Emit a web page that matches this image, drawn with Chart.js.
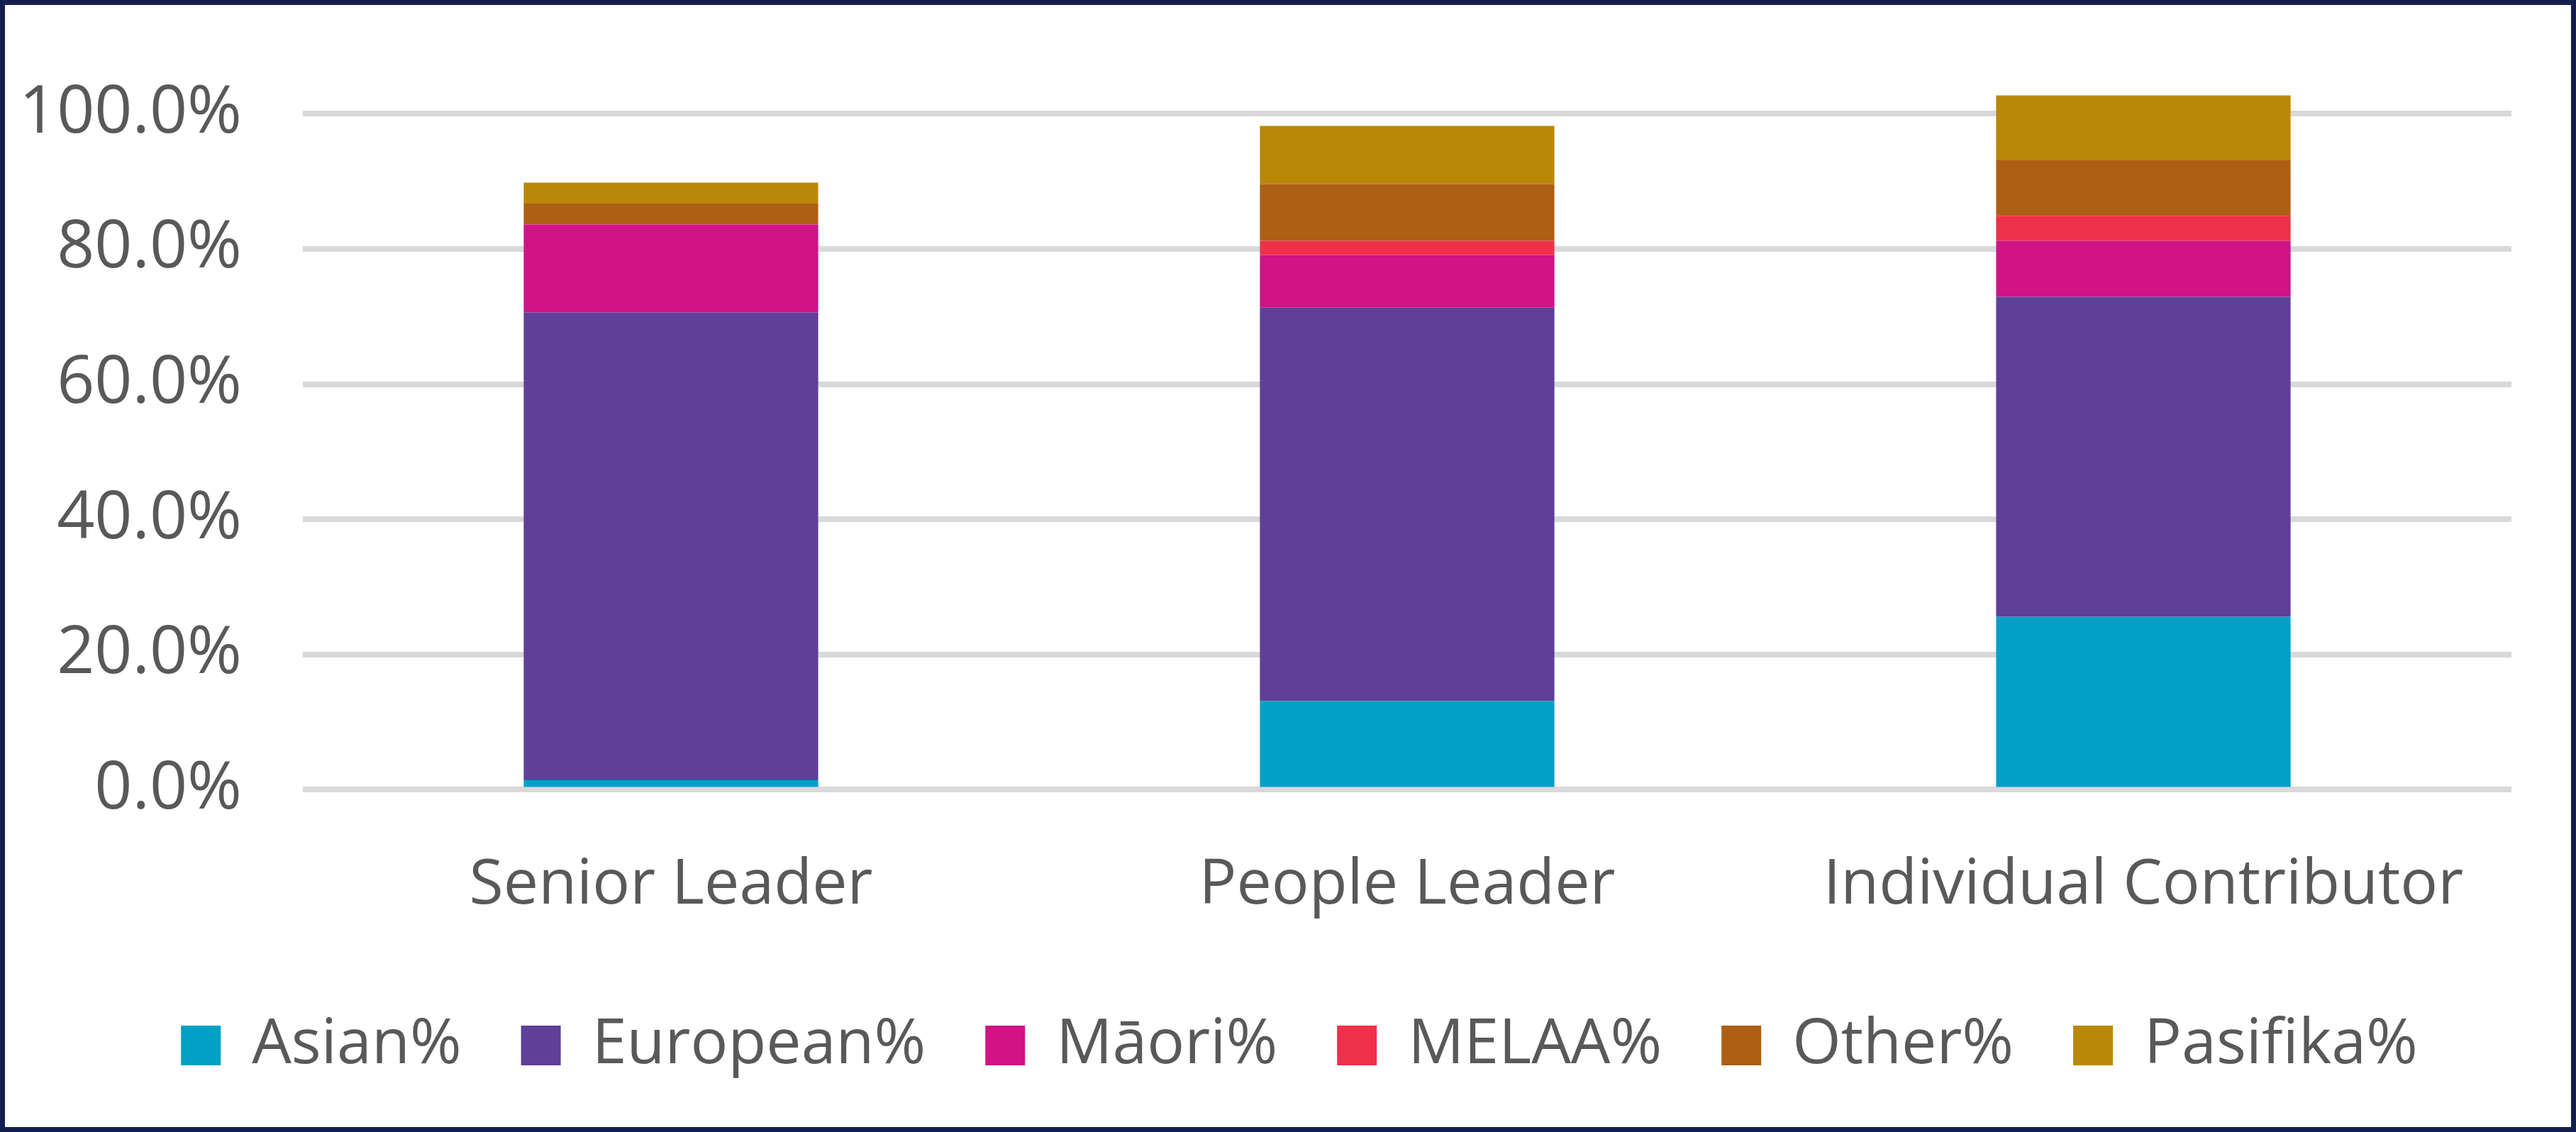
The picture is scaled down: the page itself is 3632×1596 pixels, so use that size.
<!DOCTYPE html>
<html>
<head>
<meta charset="utf-8">
<script src="https://cdn.jsdelivr.net/npm/chart.js@4/dist/chart.umd.min.js"></script>
<style>
  html, body { margin: 0; padding: 0; background: #fff; }
  #frame {
    width: 3632px; height: 1596px; box-sizing: border-box;
    border: 7px solid #131e50; background: #fff;
  }
  #chart { display: block; }
</style>
</head>
<body>
<div id="frame"><canvas id="chart" width="3618" height="1582"></canvas></div>
<script>
const levels = ['Senior Leader', 'People Leader', 'Individual Contributor'];

const asian    = [1.4, 13.1, 25.6];
const european = [69.2, 58.2, 47.3];
const maori    = [13.0, 7.8, 8.3];
const melaa    = [0.0, 2.1, 3.7];
const other    = [3.1, 8.4, 8.2];
const pasifika = [3.1, 8.6, 9.6];

const yTicks = [0, 20, 40, 60, 80, 100];

const seriesNames  = ['Asian%', 'European%', 'Māori%', 'MELAA%', 'Other%', 'Pasifika%'];
const seriesValues = [asian, european, maori, melaa, other, pasifika];
const seriesColors = ['#00a0c6', '#5f3f98', '#d01385', '#ef304a', '#ad5f15', '#ba8808'];

const textColor = '#595959';
const fontFamily = '"Open Sans", "Noto Sans", sans-serif';

const datasets = seriesNames.map((name, i) => ({
    label: name,
    data: seriesValues[i],
    backgroundColor: seriesColors[i],
    borderWidth: 0,
    categoryPercentage: 1,
    barPercentage: 0.4
}));

// nudge the legend to where the original sits
const legendShift = {
    id: 'legendShift',
    afterLayout(chart) {
        const lg = chart.legend;
        lg.left += 58; lg.right += 58;
        lg.top -= 31; lg.bottom -= 31;
    }
};

new Chart(document.getElementById('chart'), {
    type: 'bar',
    data: { labels: levels, datasets: datasets },
    plugins: [legendShift],
    options: {
        responsive: false,
        animation: false,
        layout: { padding: { top: 58, right: 84, bottom: 30, left: 0 } },
        plugins: {
            tooltip: { enabled: false },
            legend: {
                position: 'bottom',
                labels: {
                    boxWidth: 56,
                    boxHeight: 56,
                    padding: 84,
                    color: textColor,
                    font: { family: fontFamily, size: 88 }
                }
            }
        },
        scales: {
            x: {
                stacked: true,
                grid: { display: false },
                border: { display: false },
                ticks: {
                    color: textColor,
                    padding: 75,
                    font: { family: fontFamily, size: 88 }
                }
            },
            y: {
                stacked: true,
                min: 0,
                max: 110,
                afterBuildTicks: scale => {
                    scale.ticks = yTicks.map(v => ({ value: v }));
                },
                afterFit: scale => {
                    scale.width = 420;
                    scale.paddingTop = 0;
                    scale.paddingBottom = 0;
                },
                grid: { color: '#d9d9d9', lineWidth: 8, drawTicks: false },
                border: { display: false },
                ticks: {
                    color: textColor,
                    padding: 86,
                    font: { family: fontFamily, size: 93 },
                    callback: v => v.toFixed(1) + '%'
                }
            }
        }
    }
});
</script>
</body>
</html>
